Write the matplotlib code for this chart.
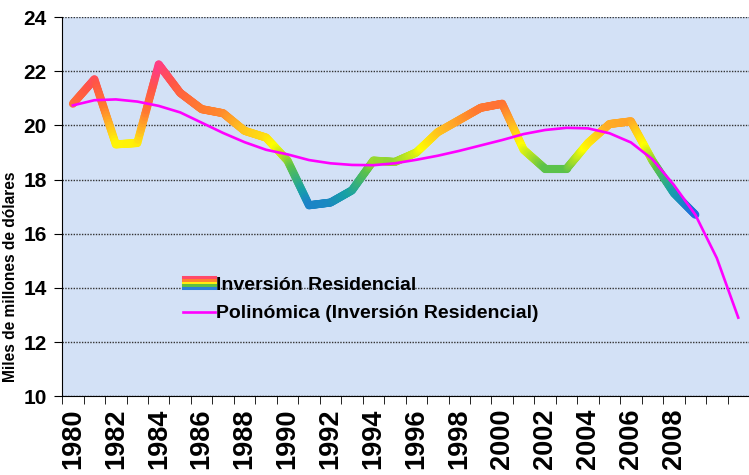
import numpy as np
import matplotlib.pyplot as plt
from matplotlib.collections import LineCollection
from matplotlib.colors import LinearSegmentedColormap, Normalize
from matplotlib.legend_handler import HandlerBase
from matplotlib.lines import Line2D

plt.rcParams['font.family'] = ['Liberation Sans', 'DejaVu Sans']
plt.rcParams['font.weight'] = 'bold'

# data
years = list(range(1980, 2012))          # categories on the x axis
data_years = list(range(1980, 2010))
inversion = [20.8, 21.7, 19.3, 19.35, 22.25, 21.2, 20.6, 20.45, 19.8, 19.55,
             18.7, 17.05, 17.15, 17.6, 18.7, 18.65, 19.0, 19.75, 20.2, 20.65,
             20.8, 19.1, 18.4, 18.4, 19.35, 20.05, 20.15, 18.7, 17.5, 16.7]
# polynomial trendline as drawn in the chart (1980-2011)
tendencia = [20.74, 20.93, 20.96, 20.88, 20.72, 20.48, 20.1, 19.72, 19.38, 19.1,
             18.93, 18.72, 18.6, 18.54, 18.53, 18.6, 18.73, 18.88, 19.06, 19.26,
             19.46, 19.68, 19.83, 19.91, 19.89, 19.71, 19.37, 18.75, 17.8, 16.7,
             15.1, 12.9]
tick_labels = [str(y) if (y % 2 == 0 and y <= 2008) else "" for y in years]

# gradient colours by value (like the excel fill)
stops = [(16.7, "#1f6de0"), (17.5, "#17a0a8"), (18.4, "#5cc24a"),
         (19.2, "#ffff00"), (19.9, "#ffbb22"), (20.6, "#ff7a30"),
         (21.5, "#ff5548"), (22.3, "#ff3a8c")]
vmin, vmax = stops[0][0], stops[-1][0]
cmap = LinearSegmentedColormap.from_list(
    "rainbow_fill", [((v - vmin) / (vmax - vmin), c) for v, c in stops])
norm = Normalize(vmin, vmax)

fig = plt.figure(figsize=(7.49, 4.75), dpi=100)
ax = fig.add_axes([0.083, 0.166, 0.917, 0.798])
ax.set_facecolor("#d3e1f6")

x = np.arange(len(data_years))
# split each segment in small pieces so the colour changes smoothly
seg_x, seg_y = [], []
for i in range(len(x) - 1):
    t = np.linspace(0, 1, 25)
    seg_x.extend(x[i] + t[:-1] * (x[i + 1] - x[i]))
    seg_y.extend(inversion[i] + t[:-1] * (inversion[i + 1] - inversion[i]))
seg_x.append(x[-1])
seg_y.append(inversion[-1])
pts = np.column_stack([seg_x, seg_y]).reshape(-1, 1, 2)
segs = np.concatenate([pts[:-1], pts[1:]], axis=1)
mid = (np.array(seg_y[:-1]) + np.array(seg_y[1:])) / 2
lc = LineCollection(segs, colors=cmap(norm(mid)), linewidths=5.8,
                    capstyle="round", joinstyle="round", zorder=3)
ax.add_collection(lc)

ax.plot(np.arange(len(years)), tendencia, color="#ff00ff", lw=1.9, zorder=4,
        solid_joinstyle="round")

ax.set_xlim(-0.5, len(years) - 0.5)
ax.set_ylim(10, 24)
ax.set_yticks(np.arange(10, 25, 2))
ax.tick_params(axis="y", labelsize=15, length=6, direction="out", pad=5)
ax.set_xticks(np.arange(len(years)))
ax.set_xticklabels(tick_labels, rotation=90, fontsize=19.5)
ax.set_xticks(np.arange(len(years) + 1) - 0.5, minor=True)
ax.tick_params(axis="x", which="major", length=0, pad=9)
ax.tick_params(axis="x", which="minor", length=6, direction="out")
ax.grid(axis="y", color="#333333", linestyle=(0, (1, 1)), linewidth=1)
for s in ["top", "right"]:
    ax.spines[s].set_visible(False)
ax.set_ylabel("Miles de millones de dólares", fontsize=11.2, fontweight="bold")
ax.yaxis.set_label_coords(-0.064, 0.315)


class RainbowHandler(HandlerBase):
    def create_artists(self, legend, orig_handle, xdescent, ydescent,
                       width, height, fontsize, trans):
        cols = ["#ff4a6a", "#ff8030", "#ffee10", "#60c040", "#2a80d8"]
        arts = []
        for k, c in enumerate(cols):
            yy = height * (0.95 - k * 0.2) - ydescent
            arts.append(Line2D([-xdescent, -xdescent + width], [yy, yy],
                               color=c, lw=2.2, transform=trans))
        return arts


rain = Line2D([], [])
poly = Line2D([], [], color="#ff00ff", lw=1.9)
leg = ax.legend([rain, poly],
                ["Inversión Residencial", "Polinómica (Inversión Residencial)"],
                handler_map={rain: RainbowHandler()},
                loc="upper left", bbox_to_anchor=(0.151, 0.362), frameon=False,
                fontsize=14, handlelength=1.65, handletextpad=0.05,
                labelspacing=0.55)

plt.savefig("out.png", dpi=100)
